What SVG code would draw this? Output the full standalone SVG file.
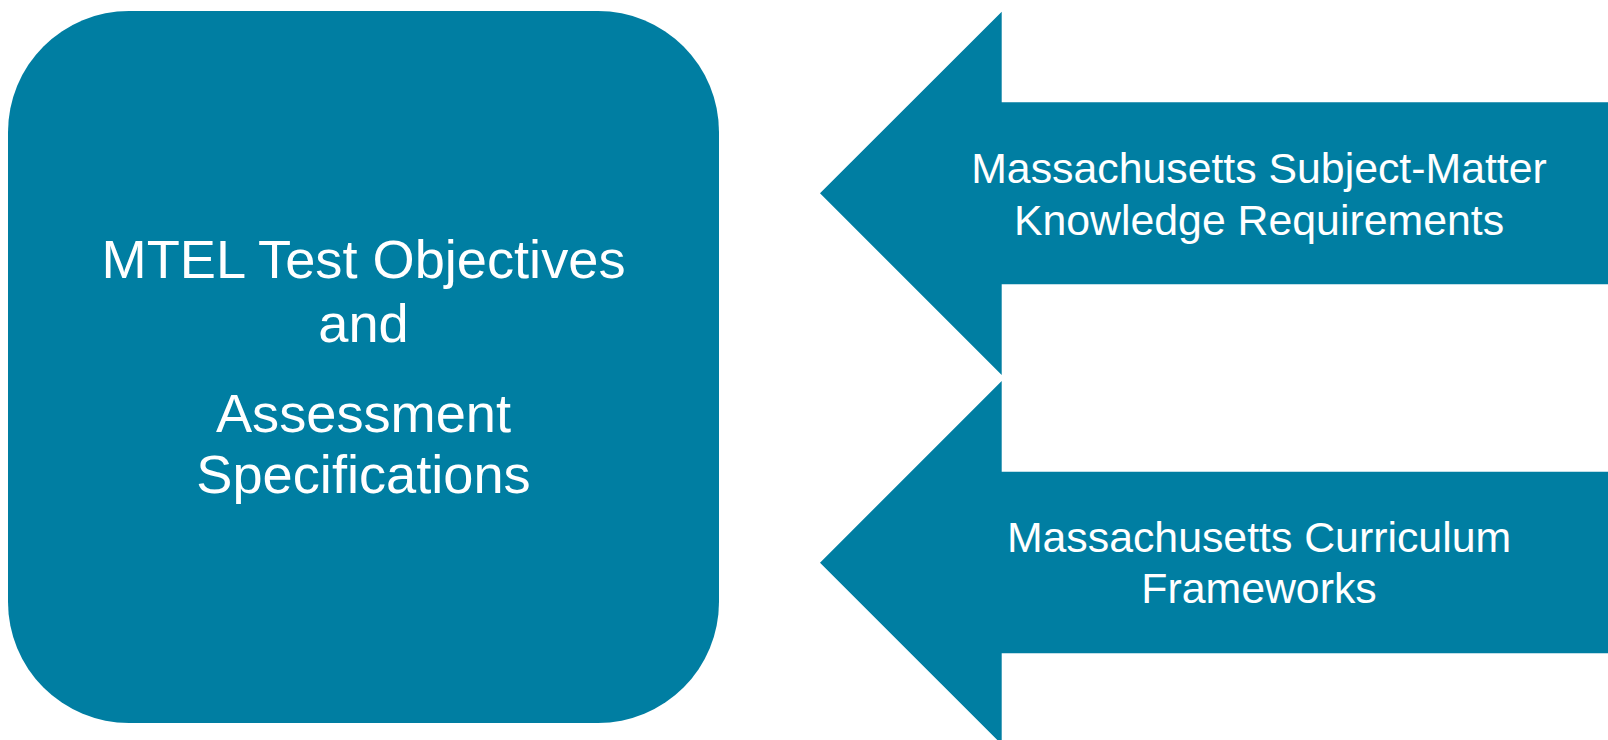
<svg xmlns="http://www.w3.org/2000/svg" width="1608" height="740" viewBox="0 0 1608 740">
<style>
.shape{fill:#007EA2;}
.t{fill:#ffffff;font-family:"Liberation Sans",Arial,sans-serif;text-anchor:middle;}
.big{font-size:54.2px;}
.mid{font-size:42.8px;}
</style>
<rect width="1608" height="740" fill="#ffffff"/>
<g id="node-mtel">
<rect class="shape" x="8" y="11" width="711" height="712" rx="121" ry="121"/>
<text class="t big" x="363.5" y="278.3">MTEL Test Objectives</text>
<text class="t big" x="363.5" y="341.7">and</text>
<text class="t big" x="363.5" y="431.7">Assessment</text>
<text class="t big" x="363.5" y="493.3">Specifications</text>
</g>
<g id="connectors">
<g id="arrow-smk">
<polygon class="shape" points="820,193.3 1001.7,11.7 1001.7,102.3 1608,102.3 1608,284.3 1001.7,284.3 1001.7,375"/>
<text class="t mid" x="1259" y="183.3">Massachusetts Subject-Matter</text>
<text class="t mid" x="1259" y="235">Knowledge Requirements</text>
</g>
<g id="arrow-cf">
<polygon class="shape" points="820,562.7 1001.7,381 1001.7,471.7 1608,471.7 1608,653.3 1001.7,653.3 1001.7,744.4"/>
<text class="t mid" x="1259" y="551.7">Massachusetts Curriculum</text>
<text class="t mid" x="1259" y="603.3">Frameworks</text>
</g>
</g>
</svg>
